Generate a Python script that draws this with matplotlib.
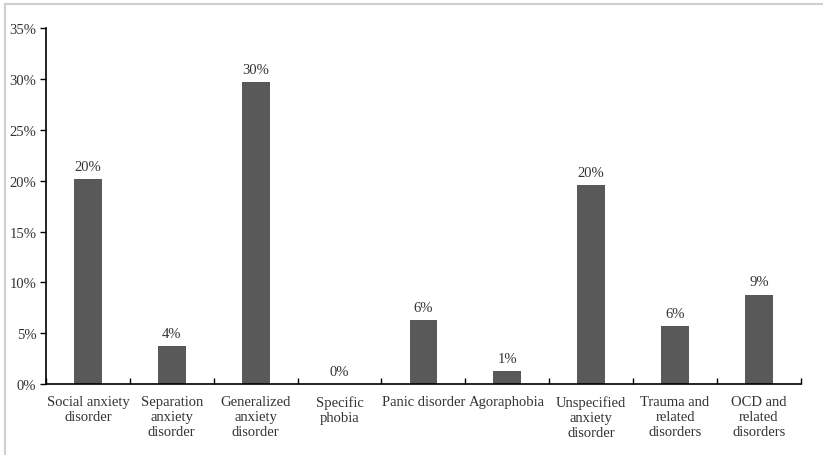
import numpy as np
import matplotlib.pyplot as plt
from matplotlib.lines import Line2D

categories = ['Social anxiety\ndisorder', 'Separation\nanxiety\ndisorder',
              'Generalized\nanxiety\ndisorder', 'Specific\nphobia',
              'Panic disorder', 'Agoraphobia', 'Unspecified\nanxiety\ndisorder',
              'Trauma and\nrelated\ndisorders', 'OCD and\nrelated\ndisorders']
values = [20.2, 3.7, 29.7, 0.0, 6.3, 1.3, 19.6, 5.7, 8.8]
labels = ['20%', '4%', '30%', '0%', '6%', '1%', '20%', '6%', '9%']
yticks = [0, 5, 10, 15, 20, 25, 30, 35]

plt.rcParams['font.family'] = ['Liberation Serif', 'DejaVu Serif']

fig = plt.figure(figsize=(8.23, 4.56), dpi=100)
ax = fig.add_axes([0.0559, 0.1557, 0.9171, 0.7803])

x = np.arange(len(categories))
ax.bar(x, values, width=0.33, color='#595959')
for xi, v, lab in zip(x, values, labels):
    ax.text(xi, v + 0.6, lab, ha='center', va='bottom', fontsize=10.5, color='#333333')

ax.set_xlim(-0.5, len(categories) - 0.5)
ax.set_ylim(0, 35)
ax.set_yticks(yticks)
ax.set_yticklabels([f'{t}%' for t in yticks], fontsize=10.5, color='#333333')
ax.set_xticks(x)
ax.set_xticklabels(categories, fontsize=10.5, color='#333333', linespacing=1.2)
ax.tick_params(axis='x', length=0, pad=8)
ax.set_xticks(np.arange(len(categories) + 1) - 0.5, minor=True)
ax.tick_params(axis='x', which='minor', direction='in', length=4, width=1)
ax.tick_params(axis='y', direction='out', length=4, width=1, pad=3)

for s in ['top', 'right']:
    ax.spines[s].set_visible(False)
for s in ['left', 'bottom']:
    ax.spines[s].set_linewidth(1.2)

# light grey frame around the picture
fig.add_artist(Line2D([5 / 823, 1], [1 - 5 / 456, 1 - 5 / 456], color='#d0d0d0', lw=1.5, transform=fig.transFigure))
fig.add_artist(Line2D([5 / 823, 5 / 823], [0, 1 - 5 / 456], color='#d0d0d0', lw=1.5, transform=fig.transFigure))

plt.savefig('out.png', dpi=100)
